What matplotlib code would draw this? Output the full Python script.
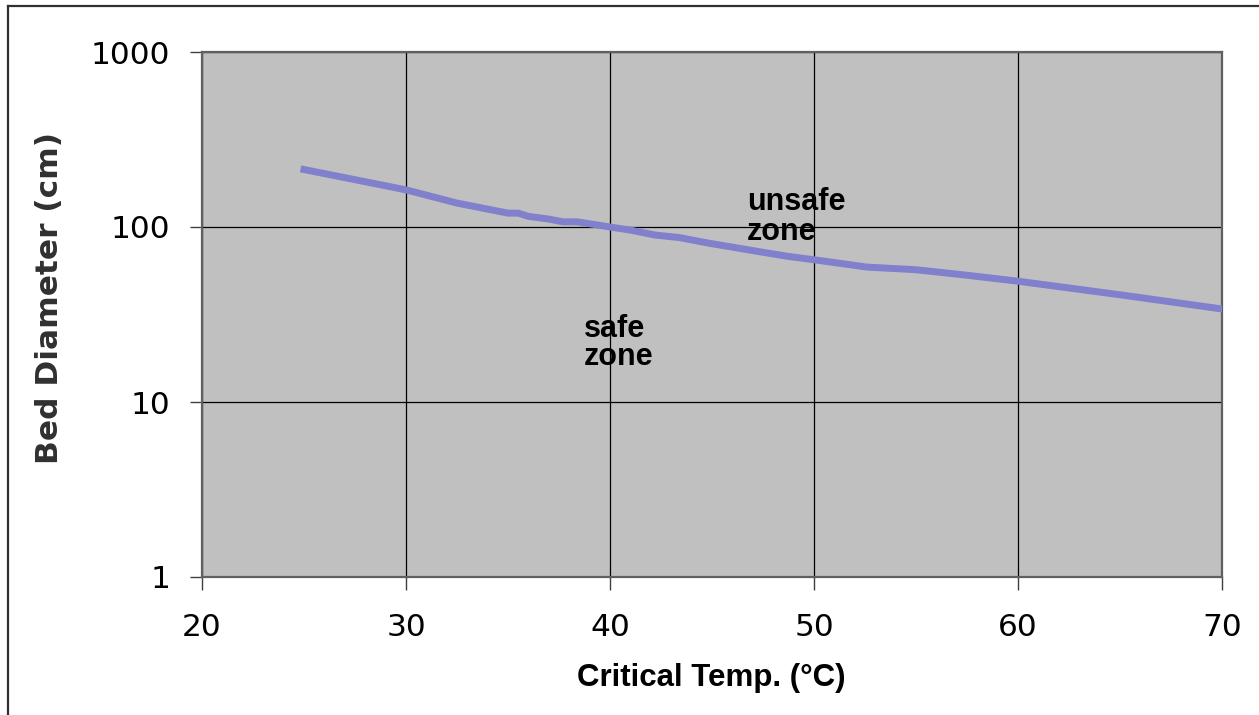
import matplotlib
matplotlib.use("Agg")
import matplotlib.pyplot as plt
from matplotlib.lines import Line2D

# data
temp_c = [25, 30, 32.5, 35, 35.5, 36, 37, 37.7, 38.4, 40, 41, 42.2, 43.4,
          44.8, 47.4, 48.7, 50, 52.6, 55, 57.5, 60, 65, 70]
bed_diameter = [213, 163, 137, 120, 120, 115, 111, 107, 107, 100, 96, 90, 87,
                81, 72, 68, 65, 59, 57, 53, 49, 41, 34]

x_ticks = [20, 30, 40, 50, 60, 70]
y_ticks = [1, 10, 100, 1000]
y_tick_labels = ["1", "10", "100", "1000"]

fig = plt.figure(figsize=(12.59, 7.15), dpi=100)
ax = fig.add_axes([202 / 1259, 1 - 577 / 715, 1020 / 1259, 525 / 715])
ax.set_facecolor("#C0C0C0")

ax.plot(temp_c, bed_diameter, color="#8080CC", linewidth=5, zorder=3)

ax.set_yscale("log")
ax.set_xlim(20, 70)
ax.set_ylim(1, 1000)
ax.set_xticks(x_ticks)
ax.set_yticks(y_ticks)
ax.set_yticklabels(y_tick_labels)
ax.yaxis.set_minor_locator(matplotlib.ticker.NullLocator())
ax.grid(True, color="black", linewidth=0.9, zorder=1)
ax.set_axisbelow(True)

ax.tick_params(axis="both", direction="out", length=9, width=1,
               color="#404040", labelsize=22.5)
ax.tick_params(axis="x", pad=17)
ax.tick_params(axis="y", pad=14)
for lab in ax.get_xticklabels() + ax.get_yticklabels():
    lab.set_family("DejaVu Sans")

for sp in ax.spines.values():
    sp.set_color("#606060")
    sp.set_linewidth(1.6)

# zone labels
ax.text(46.7, 170, "unsafe\nzone", ha="left", va="top", fontsize=22,
        fontweight="bold", family="Liberation Sans", linespacing=1.0)
ax.text(38.7, 32, "safe\nzone", ha="left", va="top", fontsize=22,
        fontweight="bold", family="Liberation Sans", linespacing=0.95)

# axis titles
fig.text(711 / 1259, 1 - 678 / 715, "Critical Temp. (°C)", ha="center",
         va="center", fontsize=22.5, fontweight="bold", family="Liberation Sans")
fig.text(50 / 1259, 1 - 298 / 715, "Bed Diameter (cm)", ha="center",
         va="center", rotation=90, fontsize=22.5, fontweight="bold",
         family="DejaVu Sans", color="#303030")

# chart-area border (cropped: only top and left visible)
fig.add_artist(Line2D([8 / 1259, 8 / 1259], [0, 1 - 6 / 715],
                      transform=fig.transFigure, color="#303030", linewidth=1.6))
fig.add_artist(Line2D([8 / 1259, 1], [1 - 6 / 715, 1 - 6 / 715],
                      transform=fig.transFigure, color="#303030", linewidth=1.6))

fig.savefig("out.png", dpi=100, facecolor="white")
